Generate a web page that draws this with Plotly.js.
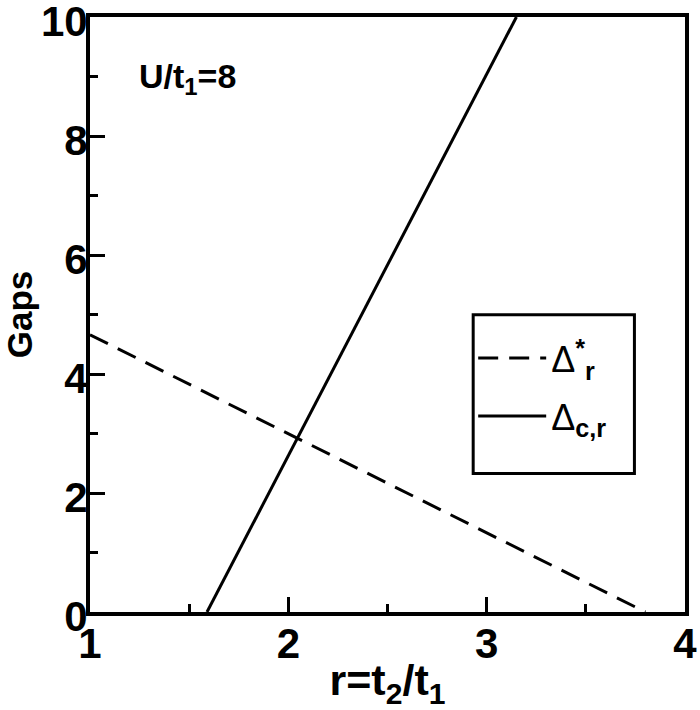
<!DOCTYPE html>
<html>
<head>
<meta charset="utf-8">
<script src="https://cdn.plot.ly/plotly-3.0.1.min.js"></script>
<style>
  html, body { margin: 0; padding: 0; background: #fff; }
  #chart { width: 700px; height: 710px; }
</style>
</head>
<body>
<div id="chart"></div>
<script>
// --- data ---
const rStar = [1.0, 3.80];      // Delta*_r
const gapStar = [4.66, 0.0];
const rCr = [1.59, 3.15];       // Delta_c,r
const gapCr = [0.0, 10.0];

const xTicks = [1, 2, 3, 4];
const yTicks = [0, 2, 4, 6, 8, 10];

const fontFam = 'Liberation Sans, Arial, sans-serif';

const traces = [
    {
        x: rStar, y: gapStar,
        mode: 'lines', type: 'scatter',
        name: 'Δ<sup><b>*</b></sup><sub><b>r</b></sub>',
        legendgroup: 'a',
        line: { color: '#000', width: 3, dash: '20px,11px' }
    },
    {
        x: rCr, y: gapCr,
        mode: 'lines', type: 'scatter',
        name: 'Δ<sub><b>c,r</b></sub>',
        legendgroup: 'b',
        line: { color: '#000', width: 3 }
    }
];

const axisCommon = {
    showline: true, mirror: true, linecolor: '#000', linewidth: 4,
    showgrid: false, zeroline: false,
    ticks: 'inside', ticklen: 15, tickwidth: 3, tickcolor: '#000',
    ticklabeloverflow: 'allow',
    tickfont: { family: fontFam, size: 42, weight: 'bold', color: '#000' }
};

const layout = {
    width: 700, height: 710,
    margin: { l: 90, r: 15, t: 17, b: 98 },
    paper_bgcolor: '#fff', plot_bgcolor: '#fff',
    xaxis: Object.assign({}, axisCommon, {
        range: [1, 4],
        tickvals: xTicks,
        ticklabelstandoff: -8,
        minor: { dtick: 0.5, ticks: 'inside', ticklen: 8, tickwidth: 3, tickcolor: '#000' },
        title: { text: 'r=t<sub>2</sub>/t<sub>1</sub>', standoff: 0,
                 font: { family: fontFam, size: 43, weight: 'bold', color: '#000' } }
    }),
    yaxis: Object.assign({}, axisCommon, {
        range: [0, 10],
        tickvals: yTicks,
        ticklabelstandoff: -10,
        ticklabelshift: 4,
        minor: { dtick: 1, ticks: 'inside', ticklen: 8, tickwidth: 3, tickcolor: '#000' },
        title: { text: 'Gaps', standoff: 0,
                 font: { family: fontFam, size: 35, weight: 'bold', color: '#000' } }
    }),
    showlegend: true,
    legend: {
        x: 0.644, y: 0.477, xanchor: 'left', yanchor: 'top',
        borderwidth: 0, bgcolor: 'rgba(0,0,0,0)',
        font: { family: fontFam, size: 36, color: '#000' },
        tracegroupgap: 8,
        itemwidth: 68
    },
    // legend frame
    shapes: [{
        type: 'rect', xref: 'paper', yref: 'paper',
        x0: 0.644, x1: 0.915, y0: 0.2326, y1: 0.4996,
        line: { color: '#000', width: 3 }, fillcolor: '#fff', layer: 'below'
    }],
    annotations: [{
        x: 1.235, y: 8.97, xref: 'x', yref: 'y',
        xanchor: 'left', yanchor: 'middle',
        text: 'U/t<sub>1</sub>=8', showarrow: false,
        font: { family: fontFam, size: 34, weight: 'bold', color: '#000' }
    }]
};

Plotly.newPlot('chart', traces, layout, { staticPlot: true, displayModeBar: false });
</script>
</body>
</html>
